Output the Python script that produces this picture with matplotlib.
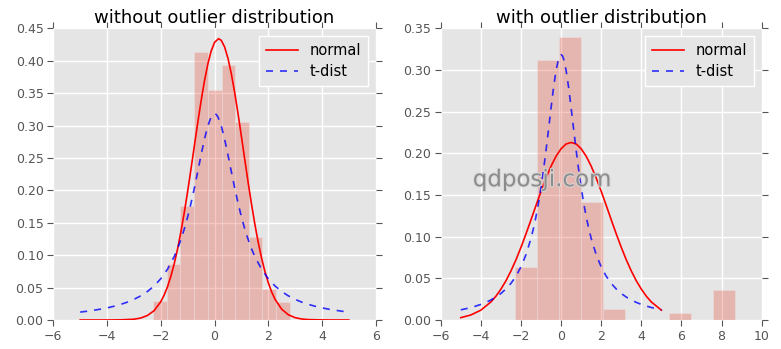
import matplotlib
matplotlib.use("Agg")
import matplotlib.pyplot as plt
import matplotlib.patheffects as pe

# ---------------- data ----------------
# left panel histogram (density)
left_edges = [-2.28, -1.77, -1.27, -0.76, -0.25, 0.26, 0.77, 1.28, 1.78, 2.29, 2.80]
left_heights = [0.029, 0.087, 0.176, 0.414, 0.355, 0.394, 0.305, 0.128, 0.048, 0.028]

# right panel histogram (density)
right_edges = [-2.30, -1.20, -0.10, 0.99, 2.09, 3.18, 4.28, 5.37, 6.47, 7.56, 8.66]
right_heights = [0.064, 0.312, 0.339, 0.142, 0.013, 0.0, 0.0, 0.008, 0.0, 0.036]

# left panel "normal" curve
left_norm_x = [-5.0, -4.0, -3.5, -3.0, -2.75, -2.5, -2.25, -2.0, -1.875, -1.75, -1.625,
               -1.5, -1.375, -1.25, -1.125, -1.0, -0.875, -0.75, -0.625, -0.5, -0.375,
               -0.25, -0.125, 0.0, 0.15, 0.25, 0.375, 0.5, 0.625, 0.75, 0.875, 1.0,
               1.125, 1.25, 1.375, 1.5, 1.625, 1.75, 1.875, 2.0, 2.125, 2.25, 2.5,
               2.75, 3.0, 3.25, 3.5, 4.0, 4.5, 5.0]
left_norm_y = [0.0, 0.0, 0.0002, 0.0012, 0.0030, 0.0069, 0.0144, 0.0283, 0.0385, 0.0514,
               0.0675, 0.0869, 0.1098, 0.1364, 0.1661, 0.1987, 0.2333, 0.2690, 0.3044,
               0.3381, 0.3688, 0.3949, 0.4150, 0.4283, 0.434, 0.4314, 0.4212, 0.4037,
               0.3798, 0.3508, 0.3182, 0.2832, 0.2475, 0.2124, 0.1789, 0.1479, 0.1200,
               0.0957, 0.0748, 0.0575, 0.0433, 0.0321, 0.0166, 0.0080, 0.0036, 0.0015,
               0.0006, 0.0001, 0.0, 0.0]

# "t-dist" curve (same in both panels)
t_x = [-5.0, -4.75, -4.5, -4.25, -4.0, -3.75, -3.5, -3.25, -3.0, -2.75, -2.5, -2.25,
       -2.0, -1.75, -1.5, -1.375, -1.25, -1.125, -1.0, -0.875, -0.75, -0.625, -0.5,
       -0.375, -0.25, -0.125, -0.0625, 0.0, 0.0625, 0.125, 0.25, 0.375, 0.5, 0.625,
       0.75, 0.875, 1.0, 1.125, 1.25, 1.375, 1.5, 1.75, 2.0, 2.25, 2.5, 2.75, 3.0,
       3.25, 3.5, 3.75, 4.0, 4.25, 4.5, 4.75, 5.0]
t_y = [0.0122, 0.0135, 0.0150, 0.0167, 0.0187, 0.0211, 0.0240, 0.0275, 0.0318, 0.0372,
       0.0439, 0.0525, 0.0637, 0.0784, 0.0979, 0.1101, 0.1242, 0.1405, 0.1592, 0.1803,
       0.2037, 0.2289, 0.2546, 0.2791, 0.2996, 0.3134, 0.3171, 0.3183, 0.3171, 0.3134,
       0.2996, 0.2791, 0.2546, 0.2289, 0.2037, 0.1803, 0.1592, 0.1405, 0.1242, 0.1101,
       0.0979, 0.0784, 0.0637, 0.0525, 0.0439, 0.0372, 0.0318, 0.0275, 0.0240, 0.0211,
       0.0187, 0.0167, 0.0150, 0.0135, 0.0122]

# right panel "normal" curve
right_norm_x = [-5.0, -4.5, -4.0, -3.5, -3.25, -3.0, -2.75, -2.5, -2.25, -2.0, -1.75,
                -1.5, -1.25, -1.0, -0.75, -0.5, -0.25, 0.0, 0.25, 0.5, 0.75, 1.0, 1.25,
                1.5, 1.75, 2.0, 2.25, 2.5, 2.75, 3.0, 3.25, 3.5, 3.75, 4.0, 4.25, 4.5,
                5.0]
right_norm_y = [0.0028, 0.0060, 0.0118, 0.0216, 0.0285, 0.0370, 0.0470, 0.0588, 0.0722,
                0.0872, 0.1033, 0.1202, 0.1375, 0.1544, 0.1704, 0.1846, 0.1965, 0.2055,
                0.2112, 0.213, 0.2112, 0.2055, 0.1965, 0.1846, 0.1704, 0.1544, 0.1375,
                0.1202, 0.1033, 0.0872, 0.0722, 0.0588, 0.0470, 0.0370, 0.0285, 0.0216,
                0.0118]

titles = ["without outlier distribution", "with outlier distribution"]
left_xticks = [-6, -4, -2, 0, 2, 4, 6]
right_xticks = [-6, -4, -2, 0, 2, 4, 6, 8, 10]
left_yticks = [0.00, 0.05, 0.10, 0.15, 0.20, 0.25, 0.30, 0.35, 0.40, 0.45]
right_yticks = [0.00, 0.05, 0.10, 0.15, 0.20, 0.25, 0.30, 0.35]

# ---------------- style ----------------
plt.rcParams.update({
    "font.family": ["DejaVu Sans"],
    "axes.facecolor": "#E5E5E5",
    "axes.edgecolor": "white",
    "axes.grid": True,
    "grid.color": "white",
    "grid.linestyle": "-",
    "grid.linewidth": 1.0,
    "xtick.color": "#555555",
    "ytick.color": "#555555",
    "xtick.labelcolor": "#555555",
    "ytick.labelcolor": "#555555",
    "xtick.direction": "out",
    "ytick.direction": "out",
    "xtick.top": True,
    "ytick.right": True,
    "xtick.labelsize": 9,
    "ytick.labelsize": 9,
})

fig = plt.figure(figsize=(7.81, 3.49), dpi=100)
ax1 = fig.add_axes([0.0683, 0.0831, 0.4128, 0.8358])
ax2 = fig.add_axes([0.5643, 0.0831, 0.4110, 0.8358])

bar_color = "#E24A33"


def draw(ax, edges, heights, norm_x, norm_y, title, xlim, ylim, xticks, yticks):
    ax.set_axisbelow(True)
    widths = [edges[i + 1] - edges[i] for i in range(len(heights))]
    ax.bar(edges[:-1], heights, width=widths, align="edge", color=bar_color,
           alpha=0.3, edgecolor="#EEEEEE", linewidth=0.8)
    ax.plot(norm_x, norm_y, color="red", lw=1.2, label="normal")
    ax.plot(t_x, t_y, color="blue", lw=1.2, ls="--", dashes=(4.2, 4.2), alpha=0.8,
            label="t-dist")
    ax.set_xlim(*xlim)
    ax.set_ylim(*ylim)
    ax.set_xticks(xticks)
    ax.set_yticks(yticks)
    ax.set_xticklabels(["\u2212%d" % abs(t) if t < 0 else "%d" % t for t in xticks])
    ax.set_yticklabels(["%.2f" % t for t in yticks])
    ax.tick_params(length=4, width=0.8, pad=3)
    for s in ax.spines.values():
        s.set_visible(False)
    ax.set_title(title, fontsize=13, pad=4)
    leg = ax.legend(loc="upper right", fontsize=10.5, frameon=True, fancybox=False,
                    handlelength=2.2, borderpad=0.5, labelspacing=0.4)
    leg.get_frame().set_facecolor("#E5E5E5")
    leg.get_frame().set_edgecolor("white")
    leg.get_frame().set_linewidth(1.0)
    leg.get_frame().set_alpha(1.0)


draw(ax1, left_edges, left_heights, left_norm_x, left_norm_y, titles[0],
     (-6, 6), (0, 0.45), left_xticks, left_yticks)
draw(ax2, right_edges, right_heights, right_norm_x, right_norm_y, titles[1],
     (-6, 10), (0, 0.35), right_xticks, right_yticks)

fig.text(0.694, 0.485, "qdposji.com", fontsize=16.5, color="#858585", ha="center",
         va="center", alpha=0.9,
         path_effects=[pe.withStroke(linewidth=1.5, foreground="#D8D8D8")])

fig.savefig("out.png", dpi=100)
